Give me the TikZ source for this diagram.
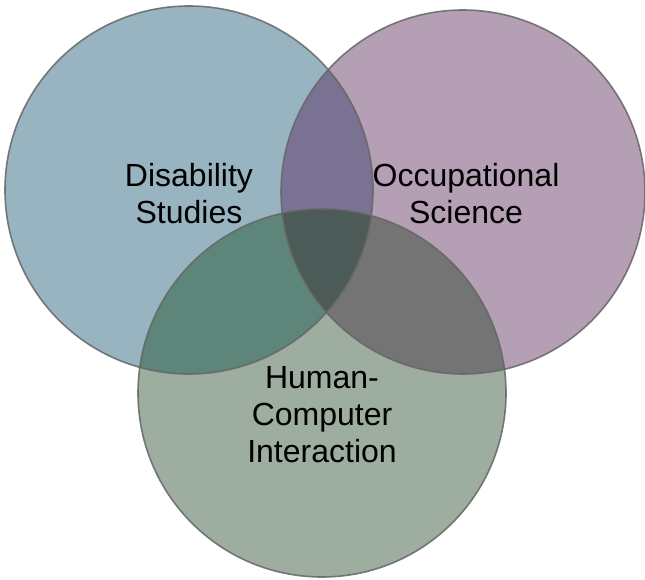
\documentclass[tikz,border=0pt]{standalone}
\usepackage{fontspec}
\setmainfont{Liberation Sans}
\definecolor{cL}{HTML}{98B4C0}
\definecolor{cR}{HTML}{B59FB4}
\definecolor{cB}{HTML}{9DAD9F}
\definecolor{cLR}{HTML}{7A7293}
\definecolor{cLB}{HTML}{5E8579}
\definecolor{cRB}{HTML}{747474}
\definecolor{cAll}{HTML}{4C5A58}
\definecolor{edge}{HTML}{666666}
\tikzset{
  outline/.style={draw=edge, line width=1.6pt, draw opacity=0.85},
  label/.style={font=\fontsize{32}{37}\selectfont, align=center, text=black, inner sep=0pt}
}
\def\circA{(189,190) circle[radius=184pt]}
\def\circB{(463,192) circle[radius=182pt]}
\def\circC{(322,393) circle[radius=184pt]}
\begin{document}
\begin{tikzpicture}[x=1pt,y=-1pt]
\useasboundingbox (0,0) rectangle (645,580);
\fill[white] (0,0) rectangle (645,580);
\fill[cL] \circA;
\fill[cR] \circB;
\fill[cB] \circC;
\begin{scope}\clip \circA; \fill[cLR] \circB; \end{scope}
\begin{scope}\clip \circA; \fill[cLB] \circC; \end{scope}
\begin{scope}\clip \circB; \fill[cRB] \circC; \end{scope}
\begin{scope}\clip \circA; \clip \circB; \fill[cAll] \circC; \end{scope}
\draw[outline] \circA;
\draw[outline] \circB;
\draw[outline] \circC;
\node[label] (ds) at (189,194) {Disability\\Studies};
\node[label] (os) at (466,194) {Occupational\\Science};
\node[label] (hci) at (322,415) {Human-\\Computer\\Interaction};
\end{tikzpicture}
\end{document}
